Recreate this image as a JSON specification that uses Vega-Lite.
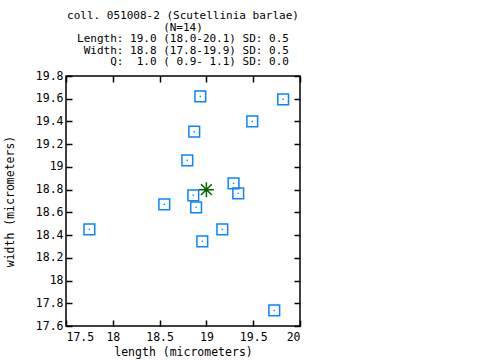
{
  "$schema": "https://vega.github.io/schema/vega-lite/v6.json",
  "width": 234,
  "height": 250,
  "autosize": {"type": "none"},
  "padding": {"left": 66, "top": 76, "right": 180, "bottom": 34},
  "background": "white",
  "config": {
    "view": {"stroke": "black", "strokeWidth": 1.5},
    "font": "DejaVu Sans Mono",
    "axis": {
      "domain": false,
      "grid": false,
      "tickColor": "black",
      "tickSize": -6,
      "tickWidth": 1.5,
      "labelFont": "DejaVu Sans Mono",
      "labelFontSize": 11.5,
      "labelColor": "black",
      "titleFont": "DejaVu Sans Mono",
      "titleFontSize": 11.5,
      "titleFontWeight": "normal",
      "titleColor": "black"
    }
  },
  "title": {
    "text": [
      "coll. 051008-2 (Scutellinia barlae)",
      "(N=14)",
      "Length: 19.0 (18.0-20.1) SD: 0.5",
      "\u200b\u00a0Width: 18.8 (17.8-19.9) SD: 0.5",
      "\u200b\u00a0\u00a0\u00a0\u00a0\u00a0Q:\u00a0\u00a01.0 (\u00a00.9-\u00a01.1) SD: 0.0"
    ],
    "font": "DejaVu Sans Mono",
    "fontSize": 11,
    "fontWeight": "normal",
    "lineHeight": 11.5,
    "anchor": "middle",
    "frame": "group",
    "offset": 3,
    "color": "black"
  },
  "datasets": {
    "pts": [
      {"length": 18.935, "width": 19.62},
      {"length": 19.82, "width": 19.595},
      {"length": 19.49, "width": 19.40},
      {"length": 18.87, "width": 19.31},
      {"length": 18.796, "width": 19.058},
      {"length": 19.29, "width": 18.855},
      {"length": 19.34, "width": 18.767},
      {"length": 18.86, "width": 18.75},
      {"length": 18.55, "width": 18.67},
      {"length": 18.89, "width": 18.644},
      {"length": 17.75, "width": 18.45},
      {"length": 19.17, "width": 18.45},
      {"length": 18.956, "width": 18.345},
      {"length": 19.725, "width": 17.737}
    ],
    "mean": [{"length": 19.0, "width": 18.8}]
  },
  "layer": [
    {
      "data": {"name": "pts"},
      "mark": {"type": "point", "shape": "square", "size": 115, "filled": false, "stroke": "#0a84ff", "strokeWidth": 1.5, "opacity": 1},
      "encoding": {
        "x": {"field": "length", "type": "quantitative", "scale": {"domain": [17.5, 20], "nice": false, "zero": false},
          "axis": {"orient": "bottom", "values": [17.5, 18, 18.5, 19, 19.5, 20], "format": "~g", "title": "length (micrometers)", "labelPadding": 11, "titlePadding": 4}},
        "y": {"field": "width", "type": "quantitative", "scale": {"domain": [17.6, 19.8], "nice": false, "zero": false},
          "axis": {"orient": "left", "values": [17.6, 17.8, 18, 18.2, 18.4, 18.6, 18.8, 19, 19.2, 19.4, 19.6, 19.8], "format": "~g", "title": "width (micrometers)", "labelPadding": 9, "titlePadding": 20}}
      }
    },
    {
      "data": {"name": "pts"},
      "mark": {"type": "point", "shape": "square", "size": 2, "filled": true, "color": "#0a84ff", "opacity": 1},
      "encoding": {
        "x": {"field": "length", "type": "quantitative", "axis": {"orient": "top", "values": [17.5, 18, 18.5, 19, 19.5, 20], "labels": false, "title": null}},
        "y": {"field": "width", "type": "quantitative", "axis": {"orient": "right", "values": [17.6, 17.8, 18, 18.2, 18.4, 18.6, 18.8, 19, 19.2, 19.4, 19.6, 19.8], "labels": false, "title": null}}
      }
    },
    {
      "data": {"name": "mean"},
      "mark": {"type": "point", "shape": "M-1,0L1,0M0,-1L0,1M-0.72,-0.72L0.72,0.72M-0.72,0.72L0.72,-0.72", "size": 225, "filled": false, "stroke": "#006400", "strokeWidth": 1.5, "opacity": 1},
      "encoding": {
        "x": {"field": "length", "type": "quantitative", "axis": null},
        "y": {"field": "width", "type": "quantitative", "axis": null}
      }
    }
  ],
  "resolve": {"axis": {"x": "independent", "y": "independent"}}
}
